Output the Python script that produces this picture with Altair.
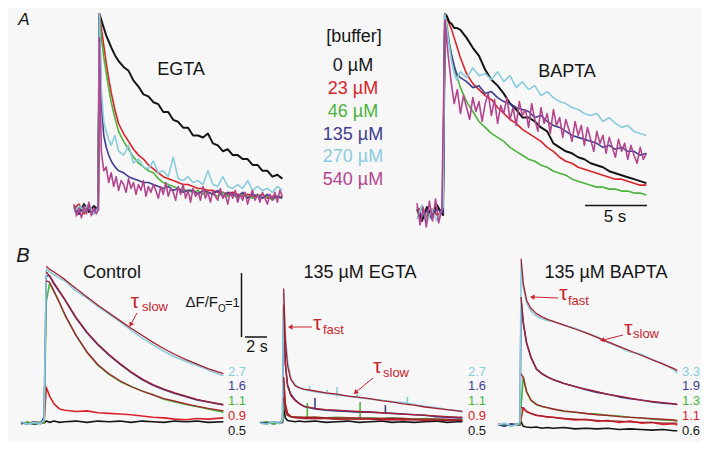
import altair as alt
import pandas as pd

# ---------------- data: panel A (normalised fluorescence vs time, s) ----------------
T_A_EGTA = [0, 0.4, 0.8, 1.2, 1.6, 1.95, 2.05, 2.2, 2.4, 2.6, 2.8, 3.0, 3.3, 3.6,
            4.0, 4.4, 4.8, 5.2, 5.6, 6.0, 6.4, 6.8, 7.2, 7.6, 8.0, 8.4, 8.8, 9.2, 9.6,
            10.0, 10.4, 10.8, 11.2, 11.6, 12.0, 12.4, 12.8, 13.2, 13.6, 14.0, 14.4,
            14.8, 15.2, 15.6, 16.0, 16.4, 16.8]
A_EGTA_0 = [0.02, -0.02, 0.03, -0.01, 0.02, 0.00, 1.00, 0.97, 0.93, 0.89, 0.86, 0.83, 0.79, 0.76,
            0.73, 0.71, 0.66, 0.63, 0.59, 0.58, 0.55, 0.54, 0.50, 0.50, 0.46, 0.45, 0.42, 0.42, 0.38,
            0.38, 0.37, 0.39, 0.34, 0.33, 0.30, 0.31, 0.28, 0.28, 0.26, 0.26, 0.23, 0.23, 0.20, 0.20,
            0.17, 0.18, 0.16]
A_EGTA_23 = [0.01, 0.03, -0.02, 0.02, -0.01, 0.00, 1.00, 0.93, 0.84, 0.75, 0.67, 0.60, 0.51, 0.44,
             0.39, 0.35, 0.31, 0.28, 0.26, 0.23, 0.21, 0.19, 0.17, 0.16, 0.15, 0.14, 0.13, 0.13, 0.12,
             0.11, 0.11, 0.10, 0.10, 0.09, 0.09, 0.08, 0.09, 0.08, 0.07, 0.08, 0.07, 0.07, 0.08, 0.06,
             0.07, 0.06, 0.07]
A_EGTA_46 = [0.00, 0.02, -0.01, 0.03, -0.02, 0.01, 0.98, 0.88, 0.78, 0.70, 0.62, 0.55, 0.47, 0.40,
             0.35, 0.31, 0.27, 0.24, 0.22, 0.20, 0.19, 0.16, 0.14, 0.13, 0.12, 0.11, 0.10, 0.10, 0.09,
             0.10, 0.08, 0.09, 0.08, 0.07, 0.09, 0.07, 0.08, 0.06, 0.08, 0.07, 0.06, 0.08, 0.06, 0.07,
             0.05, 0.07, 0.06]
A_EGTA_135 = [0.01, -0.02, 0.02, 0.00, -0.01, 0.02, 1.00, 0.55, 0.38, 0.32, 0.28, 0.25, 0.22, 0.20,
              0.19, 0.17, 0.16, 0.15, 0.14, 0.14, 0.13, 0.12, 0.11, 0.12, 0.10, 0.11, 0.09, 0.10, 0.10,
              0.08, 0.10, 0.09, 0.08, 0.10, 0.07, 0.09, 0.08, 0.07, 0.09, 0.06, 0.08, 0.07, 0.06, 0.08,
              0.06, 0.07, 0.06]
A_EGTA_270 = [-0.01, 0.02, 0.00, 0.03, -0.02, 0.01, 1.00, 0.62, 0.45, 0.40, 0.36, 0.33, 0.38, 0.30,
              0.28, 0.33, 0.24, 0.26, 0.22, 0.21, 0.25, 0.19, 0.20, 0.17, 0.27, 0.16, 0.15, 0.17, 0.14,
              0.15, 0.13, 0.20, 0.13, 0.12, 0.17, 0.12, 0.11, 0.13, 0.11, 0.15, 0.10, 0.12, 0.10, 0.11,
              0.09, 0.12, 0.10]
# 540 µM trace read on a finer 0.2 s sampling grid (it is the noisiest record)
T_A_EGTA_FINE = [round(0.2 * i, 2) for i in range(10)] + [1.95, 2.05] + [round(2.2 + 0.2 * i, 2) for i in range(74)]
A_EGTA_540 = [0.03, -0.03, 0.01, -0.04, 0.02, -0.02, 0.04, -0.03, 0.01, -0.02, 0.00, 0.88,
              0.30, 0.20, 0.22, 0.14, 0.19, 0.12, 0.17, 0.10, 0.15, 0.13,
              0.09, 0.16, 0.11, 0.14, 0.08, 0.13, 0.10, 0.15, 0.07, 0.12,
              0.09, 0.13, 0.10, 0.06, 0.12, 0.08, 0.14, 0.07, 0.11, 0.09,
              0.05, 0.12, 0.08, 0.13, 0.06, 0.10, 0.04, 0.11, 0.07, 0.09,
              0.05, 0.12, 0.06, 0.09, 0.04, 0.10, 0.07, 0.05, 0.11, 0.06,
              0.08, 0.03, 0.09, 0.06, 0.10, 0.04, 0.08, 0.05, 0.09, 0.03,
              0.07, 0.10, 0.05, 0.08, 0.04, 0.09, 0.06, 0.03, 0.08, 0.05,
              0.09, 0.04, 0.10, 0.07]

T_A_BAPTA = [0, 0.4, 0.8, 1.2, 1.6, 2.1, 2.25, 2.4, 2.6, 2.8, 3.0, 3.2, 3.5,
             4.0, 4.5, 5.0, 5.5, 6.0, 6.5, 7.0, 7.5, 8.0, 8.5, 9.0, 9.5, 10.0, 10.5, 11.0,
             11.5, 12.0, 12.5, 13.0, 13.5, 14.0, 14.5, 15.0, 15.5, 16.0, 16.5, 17.0, 17.5,
             18.0, 18.5]
A_BAPTA_0 = [0.02, -0.04, 0.03, -0.02, 0.04, -0.01, 1.00, 0.99, 0.96, 0.95, 0.93, 0.93, 0.92,
             0.88, 0.83, 0.79, 0.72, 0.67, 0.64, 0.60, 0.55, 0.52, 0.48, 0.48, 0.46, 0.43, 0.41, 0.35,
             0.33, 0.31, 0.30, 0.28, 0.27, 0.25, 0.24, 0.23, 0.21, 0.20, 0.19, 0.18, 0.17, 0.16, 0.15]
A_BAPTA_23 = [0.01, 0.03, -0.02, 0.02, -0.01, 0.01, 1.00, 0.98, 0.95, 0.92, 0.88, 0.84, 0.78,
              0.70, 0.65, 0.62, 0.59, 0.57, 0.53, 0.50, 0.47, 0.45, 0.42, 0.40, 0.38, 0.36, 0.33, 0.31,
              0.28, 0.26, 0.25, 0.23, 0.22, 0.21, 0.20, 0.19, 0.18, 0.17, 0.17, 0.16, 0.15, 0.14, 0.14]
A_BAPTA_46 = [0.00, 0.02, -0.02, 0.01, 0.03, -0.01, 0.98, 0.95, 0.86, 0.79, 0.73, 0.69, 0.63,
              0.56, 0.51, 0.46, 0.43, 0.40, 0.38, 0.36, 0.33, 0.31, 0.29, 0.27, 0.26, 0.24, 0.23, 0.21,
              0.20, 0.19, 0.17, 0.16, 0.15, 0.14, 0.13, 0.13, 0.12, 0.12, 0.11, 0.11, 0.10, 0.10, 0.09]
A_BAPTA_135 = [0.03, -0.02, 0.01, -0.03, 0.02, 0.00, 0.99, 0.92, 0.85, 0.79, 0.74, 0.70, 0.68,
               0.66, 0.63, 0.64, 0.60, 0.61, 0.58, 0.56, 0.55, 0.53, 0.52, 0.51, 0.48, 0.49, 0.46, 0.44,
               0.43, 0.41, 0.39, 0.38, 0.37, 0.36, 0.35, 0.33, 0.34, 0.32, 0.33, 0.31, 0.31, 0.29, 0.30]
A_BAPTA_270 = [-0.03, 0.04, -0.05, 0.02, -0.04, 0.03, 1.00, 0.93, 0.84, 0.76, 0.70, 0.67, 0.71,
               0.68, 0.73, 0.69, 0.70, 0.67, 0.71, 0.66, 0.69, 0.63, 0.66, 0.62, 0.64, 0.59, 0.61, 0.58,
               0.56, 0.55, 0.53, 0.52, 0.50, 0.49, 0.50, 0.46, 0.48, 0.45, 0.43, 0.44, 0.41, 0.40, 0.39]
# 540 µM trace read on a finer 0.25 s grid
T_A_BAPTA_FINE = [round(0.25 * i, 2) for i in range(9)] + [2.25] + [round(2.5 + 0.25 * i, 2) for i in range(65)]
A_BAPTA_540 = [0.05, -0.06, 0.03, -0.07, 0.06, -0.04, 0.07, -0.05, 0.02, 0.97,
               0.80, 0.66, 0.55, 0.62, 0.50, 0.59, 0.53, 0.47, 0.58, 0.51,
               0.56, 0.46, 0.55, 0.60, 0.49, 0.57, 0.45, 0.54, 0.50, 0.58,
               0.47, 0.53, 0.44, 0.56, 0.49, 0.52, 0.43, 0.55, 0.47, 0.41,
               0.53, 0.45, 0.50, 0.40, 0.52, 0.44, 0.48, 0.38, 0.47, 0.42,
               0.36, 0.46, 0.39, 0.44, 0.34, 0.43, 0.37, 0.31, 0.41, 0.35,
               0.39, 0.30, 0.38, 0.33, 0.28, 0.37, 0.31, 0.35, 0.27, 0.34,
               0.29, 0.25, 0.33, 0.27, 0.30]

BUFFER_LABELS = ["0 \u00b5M", "23 \u00b5M", "46 \u00b5M", "135 \u00b5M", "270 \u00b5M", "540 \u00b5M"]

# ---------------- data: panel B (ΔF/F0 vs time, s) ----------------
T_CTRL = [0, 0.6, 1.2, 1.8, 2.1, 2.3, 2.6, 3.0, 3.5, 4.0, 5.0, 6.0, 7.0, 8.0, 9.0, 10.0,
          11.0, 12.0, 13.0, 14.0, 15.0, 16.0, 17.0, 18.4]
CTRL_CYAN = [0.02, -0.02, 0.01, -0.01, 0.05, 2.41, 2.36, 2.32, 2.26, 2.22, 2.06, 1.95, 1.82, 1.70,
             1.58, 1.45, 1.33, 1.22, 1.12, 1.03, 0.96, 0.90, 0.83, 0.74]
CTRL_BLUE = [0.01, -0.02, 0.02, -0.01, 0.10, 2.30, 2.30, 2.17, 2.05, 1.92, 1.64, 1.41, 1.22, 1.06,
             0.92, 0.79, 0.68, 0.59, 0.52, 0.46, 0.41, 0.36, 0.33, 0.28]
CTRL_GREEN = [0.00, 0.01, -0.01, 0.02, 0.00, 1.90, 2.18, 2.05, 1.88, 1.68, 1.37, 1.10, 0.90, 0.76,
              0.65, 0.57, 0.50, 0.44, 0.37, 0.33, 0.29, 0.26, 0.22, 0.17]
CTRL_RED = [0.01, -0.01, 0.02, 0.00, 0.00, 0.56, 0.42, 0.30, 0.22, 0.20, 0.18, 0.19, 0.16, 0.15,
            0.14, 0.13, 0.11, 0.09, 0.08, 0.06, 0.05, 0.07, 0.06, 0.08]
CTRL_BLACK = [-0.01, 0.01, -0.02, 0.00, 0.00, 0.03, 0.01, 0.03, 0.01, 0.02, 0.03, 0.01, 0.03, 0.02,
              0.03, 0.01, 0.03, 0.02, 0.01, 0.03, 0.02, 0.03, 0.01, 0.02]
T_CTRL_FIT = T_CTRL[5:]
CTRL_FIT_CYAN = [2.45, 2.40, 2.36, 2.30, 2.24, 2.10, 1.97, 1.84, 1.72, 1.60, 1.48, 1.37, 1.26, 1.16,
                 1.07, 0.99, 0.92, 0.85, 0.77]
CTRL_FIT_BLUE = [2.36, 2.30, 2.19, 2.06, 1.93, 1.65, 1.42, 1.23, 1.07, 0.93, 0.80, 0.69, 0.60, 0.53,
                 0.47, 0.42, 0.37, 0.33, 0.29]
CTRL_FIT_GREEN = [2.22, 2.20, 2.06, 1.88, 1.69, 1.37, 1.11, 0.91, 0.77, 0.66, 0.57, 0.50, 0.44, 0.38,
                  0.34, 0.30, 0.26, 0.23, 0.19]

T_EG = [0, 0.6, 1.2, 1.8, 2.05, 2.15, 2.3, 2.5, 2.8, 3.2, 3.6, 4.0, 5.0, 6.0, 7.0, 8.0, 9.0, 10.0,
        11.0, 12.0, 13.0, 14.0, 15.0, 16.0, 17.0, 18.0, 18.4]
EG_CYAN = [0.00, -0.02, 0.02, -0.01, 0.05, 2.03, 1.40, 0.98, 0.70, 0.60, 0.55, 0.52, 0.49, 0.46,
           0.44, 0.42, 0.40, 0.37, 0.36, 0.33, 0.32, 0.29, 0.26, 0.24, 0.21, 0.19, 0.17]
EG_BLUE = [0.01, -0.01, 0.02, 0.00, 0.05, 1.81, 0.95, 0.60, 0.45, 0.36, 0.30, 0.26, 0.22, 0.20,
           0.19, 0.18, 0.17, 0.17, 0.16, 0.15, 0.14, 0.13, 0.12, 0.10, 0.09, 0.08, 0.08]
EG_GREEN = [0.00, 0.02, -0.01, 0.01, 0.02, 0.40, 0.20, 0.12, 0.10, 0.09, 0.09, 0.08, 0.09, 0.08,
            0.09, 0.08, 0.07, 0.08, 0.07, 0.08, 0.07, 0.06, 0.07, 0.06, 0.05, 0.05, 0.05]
EG_RED = [0.00, -0.01, 0.01, 0.00, 0.02, 0.70, 0.30, 0.15, 0.10, 0.09, 0.08, 0.08, 0.07, 0.08,
          0.06, 0.07, 0.06, 0.07, 0.05, 0.06, 0.05, 0.06, 0.04, 0.05, 0.04, 0.05, 0.04]
EG_BLACK = [0.00, 0.01, -0.01, 0.00, 0.01, 0.25, 0.08, 0.04, 0.03, 0.02, 0.03, 0.02, 0.03, 0.01,
            0.02, 0.03, 0.01, 0.02, 0.03, 0.01, 0.02, 0.01, 0.02, 0.03, 0.01, 0.02, 0.02]
# brief transients (spikes) in the 135 µM EGTA records: time, base, top, series index
EG_SPIKE_T = [4.5, 6.1, 7.0, 8.8, 13.4, 5.0, 11.4, 4.3, 9.1]
EG_SPIKE_BASE = [0.50, 0.45, 0.43, 0.40, 0.31, 0.22, 0.16, 0.08, 0.07]
EG_SPIKE_TOP = [0.59, 0.52, 0.56, 0.47, 0.41, 0.39, 0.28, 0.31, 0.33]
EG_SPIKE_SERIES = [4, 4, 4, 4, 4, 3, 3, 2, 2]
T_EG_FIT = T_EG[5:]
EG_FIT_CYAN = [2.10, 1.30, 0.90, 0.68, 0.58, 0.55, 0.53, 0.50, 0.47, 0.45, 0.42, 0.40, 0.38, 0.35,
               0.33, 0.30, 0.28, 0.25, 0.23, 0.21, 0.19, 0.18]
EG_FIT_BLUE = [1.85, 0.92, 0.58, 0.43, 0.35, 0.30, 0.26, 0.23, 0.21, 0.20, 0.19, 0.18, 0.17, 0.16,
               0.15, 0.14, 0.13, 0.12, 0.11, 0.10, 0.09, 0.09]
EG_FIT_GREEN = [0.40, 0.19, 0.12, 0.10, 0.09, 0.09, 0.09, 0.09, 0.08, 0.08, 0.08, 0.08, 0.07, 0.07,
                0.07, 0.07, 0.06, 0.06, 0.06, 0.06, 0.05, 0.05]
EG_FIT_RED = [0.72, 0.28, 0.14, 0.10, 0.08, 0.08, 0.07, 0.07, 0.07, 0.06, 0.06, 0.06, 0.06, 0.05,
              0.05, 0.05, 0.05, 0.05, 0.04, 0.04, 0.04, 0.04]

T_BA = [0, 0.6, 1.2, 1.8, 2.0, 2.1, 2.3, 2.6, 3.0, 3.5, 4.0, 4.5, 5.0, 6.0, 7.0, 8.0, 9.0, 10.0,
        11.0, 12.0, 13.0, 14.0, 15.0, 16.0, 16.3]
BA_CYAN = [0.00, 0.03, -0.02, 0.01, 0.05, 2.53, 2.16, 1.91, 1.78, 1.70, 1.66, 1.63, 1.62, 1.56,
           1.51, 1.44, 1.38, 1.29, 1.22, 1.14, 1.11, 1.02, 0.96, 0.86, 0.81]
BA_BLUE = [0.01, -0.02, 0.02, 0.00, 0.05, 1.95, 1.59, 1.28, 1.06, 0.87, 0.80, 0.75, 0.71, 0.65,
           0.60, 0.55, 0.51, 0.48, 0.44, 0.41, 0.39, 0.36, 0.34, 0.33, 0.32]
BA_GREEN = [0.00, 0.01, -0.01, 0.02, 0.00, 0.30, 0.75, 0.52, 0.38, 0.32, 0.29, 0.27, 0.25, 0.21,
            0.20, 0.18, 0.17, 0.15, 0.14, 0.12, 0.11, 0.09, 0.08, 0.07, 0.06]
BA_RED = [0.01, 0.00, -0.01, 0.01, 0.00, 0.10, 0.27, 0.21, 0.18, 0.15, 0.14, 0.12, 0.12, 0.10,
          0.08, 0.09, 0.06, 0.07, 0.04, 0.06, 0.03, 0.04, 0.01, 0.02, 0.00]
BA_BLACK = [0.00, -0.01, 0.01, 0.00, 0.00, 0.05, -0.02, -0.03, -0.04, -0.03, -0.05, -0.04, -0.05,
            -0.04, -0.06, -0.05, -0.06, -0.05, -0.07, -0.06, -0.07, -0.08, -0.07, -0.09, -0.09]
T_BA_FIT = T_BA[5:]
BA_FIT_CYAN = [2.60, 2.20, 1.95, 1.82, 1.74, 1.69, 1.65, 1.62, 1.56, 1.50, 1.44, 1.37, 1.30, 1.23,
               1.16, 1.09, 1.02, 0.95, 0.88, 0.85]
BA_FIT_BLUE = [2.00, 1.60, 1.28, 1.05, 0.88, 0.80, 0.75, 0.71, 0.65, 0.60, 0.56, 0.52, 0.48, 0.45,
               0.42, 0.39, 0.37, 0.35, 0.33, 0.32]
BA_FIT_GREEN = [0.80, 0.74, 0.52, 0.39, 0.32, 0.29, 0.27, 0.25, 0.22, 0.20, 0.18, 0.16, 0.15, 0.13,
                0.12, 0.11, 0.10, 0.09, 0.08, 0.07]
BA_FIT_RED = [0.28, 0.26, 0.21, 0.18, 0.15, 0.14, 0.13, 0.12, 0.10, 0.09, 0.08, 0.07, 0.06, 0.06,
              0.05, 0.04, 0.04, 0.03, 0.03, 0.03]

CTRL_PEAKS = ["2.7", "1.6", "1.1", "0.9", "0.5"]
EG_PEAKS = ["2.7", "1.6", "1.1", "0.9", "0.5"]
BA_PEAKS = ["3.3", "1.9", "1.3", "1.1", "0.6"]

# ---------------- layout / style ----------------
FONT = "Liberation Sans"
BG = "#f7f7f7"
BLACK, RED, GREEN, BLUE, CYAN, MAGENTA = "#151515", "#d8232a", "#4cb43e", "#3e3e8e", "#8acbdc", "#b3458f"
FIT = "#a61f2d"
ANNOT = "#c9252c"
SERIES_COLORS = [BLACK, RED, GREEN, BLUE, CYAN, MAGENTA]

# panel mapping: figure px = x0 + sx * t ; y0 - sy * value
PANELS = {
    "a_egta": dict(x0=74, sx=12.4, y0=210, sy=196),
    "a_bapta": dict(x0=417, sx=12.4, y0=213, sy=199),
    "ctrl": dict(x0=21, sx=11.0, y0=423, sy=64),
    "eg": dict(x0=260, sx=11.0, y0=423, sy=64),
    "ba": dict(x0=498, sx=11.0, y0=425, sy=64),
}

XS = alt.Scale(domain=[8, 701], nice=False, zero=False)
YS = alt.Scale(domain=[8, 442], nice=False, zero=False, reverse=True)
X = alt.X("fx:Q", scale=XS, axis=None)
Y = alt.Y("fy:Q", scale=YS, axis=None)

layers = []


def px(panel, t):
    p = PANELS[panel]
    return p["x0"] + p["sx"] * t


def py(panel, v):
    p = PANELS[panel]
    return p["y0"] - p["sy"] * v


def add_line(panel, times, values, color, width=1.5):
    n = min(len(times), len(values))
    df = pd.DataFrame({
        "fx": [px(panel, t) for t in times[:n]],
        "fy": [py(panel, v) for v in values[:n]],
        "i": list(range(n)),
    })
    layers.append(alt.Chart(df).mark_line(color=color, strokeWidth=width, strokeJoin="round").encode(
        x=X, y=Y, order="i:Q"))


# panel A traces
a_egta = [(T_A_EGTA, A_EGTA_0), (T_A_EGTA, A_EGTA_23), (T_A_EGTA, A_EGTA_46),
          (T_A_EGTA, A_EGTA_135), (T_A_EGTA, A_EGTA_270), (T_A_EGTA_FINE, A_EGTA_540)]
for (tt, vals), col in zip(a_egta, SERIES_COLORS):
    add_line("a_egta", tt, vals, col, 2.0 if col == BLACK else 1.6)
a_bapta = [(T_A_BAPTA, A_BAPTA_23), (T_A_BAPTA, A_BAPTA_46), (T_A_BAPTA, A_BAPTA_0),
           (T_A_BAPTA, A_BAPTA_135), (T_A_BAPTA, A_BAPTA_270), (T_A_BAPTA_FINE, A_BAPTA_540)]
for (tt, vals), col in zip(a_bapta, [RED, GREEN, BLACK, BLUE, CYAN, MAGENTA]):
    add_line("a_bapta", tt, vals, col, 2.0 if col == BLACK else 1.6)

# panel B traces
for vals, col in zip([CTRL_BLACK, CTRL_RED, CTRL_GREEN, CTRL_BLUE, CTRL_CYAN], SERIES_COLORS):
    add_line("ctrl", T_CTRL, vals, col, 1.6)
for vals in [CTRL_FIT_CYAN, CTRL_FIT_BLUE, CTRL_FIT_GREEN]:
    add_line("ctrl", T_CTRL_FIT, vals, FIT, 1.3)

for vals, col in zip([EG_BLACK, EG_RED, EG_GREEN, EG_BLUE, EG_CYAN], SERIES_COLORS):
    add_line("eg", T_EG, vals, col, 1.6)
spikes = pd.DataFrame({
    "fx": [px("eg", t) for t in EG_SPIKE_T],
    "fy": [py("eg", v) for v in EG_SPIKE_BASE],
    "fy2": [py("eg", v) for v in EG_SPIKE_TOP],
    "color": [SERIES_COLORS[k] for k in EG_SPIKE_SERIES],
})
layers.append(alt.Chart(spikes).mark_rule(strokeWidth=1.6).encode(
    x=X, y=Y, y2="fy2:Q", color=alt.Color("color:N", scale=None)))
for vals in [EG_FIT_RED, EG_FIT_GREEN, EG_FIT_BLUE, EG_FIT_CYAN]:
    add_line("eg", T_EG_FIT, vals, FIT, 1.3)

for vals, col in zip([BA_BLACK, BA_RED, BA_GREEN, BA_BLUE, BA_CYAN], SERIES_COLORS):
    add_line("ba", T_BA, vals, col, 1.6)
for vals in [BA_FIT_RED, BA_FIT_GREEN, BA_FIT_BLUE, BA_FIT_CYAN]:
    add_line("ba", T_BA_FIT, vals, FIT, 1.3)

# ---------------- scale bars & arrows ----------------
bars = pd.DataFrame([
    dict(fx=585, fx2=647, fy=205.5, fy2=205.5),   # 5 s
    dict(fx=241.5, fx2=241.5, fy=273, fy2=337),   # ΔF/F0 = 1
    dict(fx=245, fx2=267, fy=337, fy2=337),       # 2 s
])
layers.append(alt.Chart(bars).mark_rule(color=BLACK, strokeWidth=1.5).encode(
    x=X, y=Y, x2="fx2:Q", y2="fy2:Q"))

arrows = pd.DataFrame([
    dict(fx=137, fy=313, fx2=131, fy2=324, ang=209),
    dict(fx=312, fy=327, fx2=291, fy2=327, ang=270),
    dict(fx=373, fy=378, fx2=356, fy2=392, ang=230),
    dict(fx=558, fy=298, fx2=533, fy2=297, ang=272),
    dict(fx=623, fy=335, fx2=603, fy2=340, ang=256),
])
layers.append(alt.Chart(arrows).mark_rule(color=ANNOT, strokeWidth=1).encode(
    x=X, y=Y, x2="fx2:Q", y2="fy2:Q"))
heads = arrows.assign(hx=arrows.fx2, hy=arrows.fy2)
layers.append(alt.Chart(heads).mark_point(shape="triangle", filled=True, color=ANNOT, opacity=1, size=28).encode(
    x=alt.X("hx:Q", scale=XS, axis=None), y=alt.Y("hy:Q", scale=YS, axis=None),
    angle=alt.Angle("ang:Q", scale=None)))


# ---------------- texts ----------------
def add_text(rows, align="center", baseline="alphabetic", italic=False):
    df = pd.DataFrame(rows, columns=["text", "fx", "fy", "size", "color"])
    kw = dict(align=align, baseline=baseline, font=FONT)
    if italic:
        kw["fontStyle"] = "italic"
    layers.append(alt.Chart(df).mark_text(**kw).encode(
        x=X, y=Y, text="text:N",
        size=alt.Size("size:Q", scale=None),
        color=alt.Color("color:N", scale=None)))


add_text([["A", 24, 24.5, 17, BLACK], ["B", 23, 262, 20, BLACK]], italic=True)

legend_y = [71, 94, 117, 140, 162, 185]
add_text([["EGTA", 181, 75, 18, BLACK], ["BAPTA", 567, 77, 18, BLACK],
          ["[buffer]", 354, 42, 18, BLACK], ["5 s", 615, 222, 17, BLACK],
          ["Control", 112, 278, 18, BLACK], ["135 \u00b5M EGTA", 360, 278, 18, BLACK],
          ["135 \u00b5M BAPTA", 606, 278, 18, BLACK], ["2 s", 257, 352, 16, BLACK]]
         + [[lab, 353, yy, 18, col] for lab, yy, col in zip(BUFFER_LABELS, legend_y, SERIES_COLORS)])

# ΔF/F0 = 1
add_text([["\u0394F/F", 218, 307, 15, BLACK]], align="right")
add_text([["O", 218, 312, 10, BLACK], ["=1", 225, 307, 13, BLACK]], align="left")

# peak labels at right of each panel
label_y = [372, 386, 401, 416, 431]
label_cols = [CYAN, BLUE, GREEN, RED, BLACK]
rows = []
for x0, labs in [(228, CTRL_PEAKS), (468, EG_PEAKS), (682, BA_PEAKS)]:
    rows += [[lab, x0, yy, 13, col] for lab, yy, col in zip(labs, label_y, label_cols)]
add_text(rows, align="left", baseline="middle")

# tau annotations
add_text([["\u03c4", 135, 308, 21, ANNOT], ["\u03c4", 317.5, 330, 21, ANNOT],
          ["\u03c4", 377.5, 373, 21, ANNOT], ["\u03c4", 563.5, 300, 21, ANNOT],
          ["\u03c4", 628.5, 335, 21, ANNOT]])
add_text([["slow", 142, 311, 13, ANNOT], ["fast", 323, 334, 13, ANNOT],
          ["slow", 383, 377, 13, ANNOT], ["fast", 568, 305, 13, ANNOT],
          ["slow", 633, 338, 13, ANNOT]], align="left")

chart = alt.layer(*layers).properties(
    width=693, height=434,
    autosize=alt.AutoSizeParams(type="none"),
    padding=0,
    background=BG,
).configure_view(stroke=None)

chart.save("out.html", embed_options={"renderer": "svg", "actions": False})
